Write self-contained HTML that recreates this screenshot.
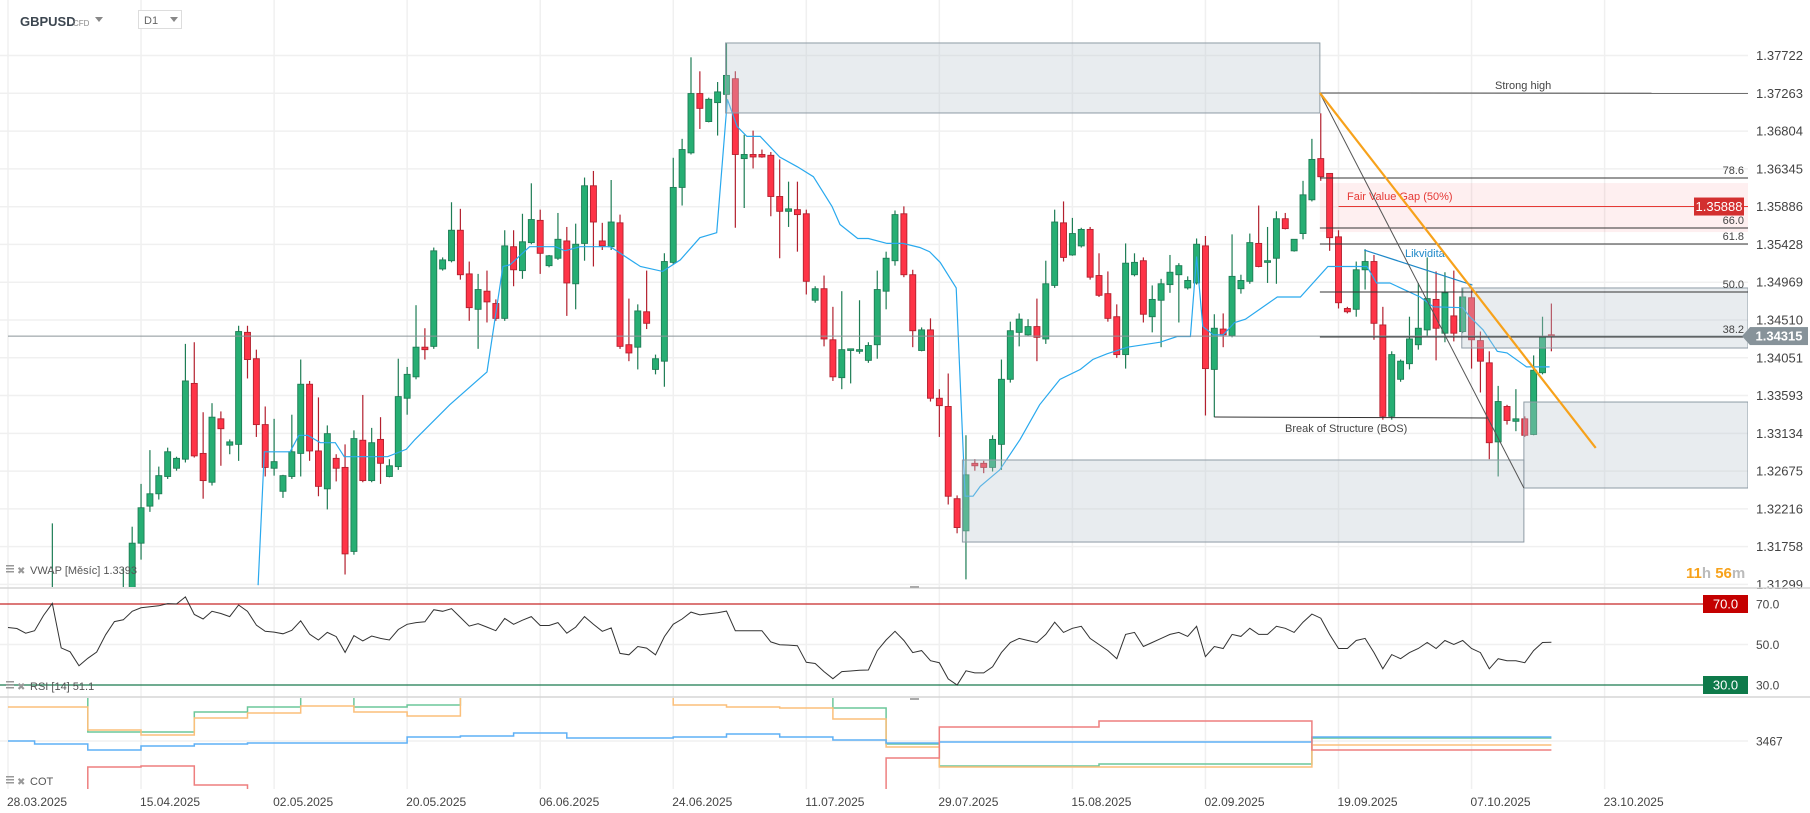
<!DOCTYPE html>
<html><head><meta charset="utf-8"><title>GBPUSD D1</title>
<style>
html,body{margin:0;padding:0;background:#fff;width:1810px;height:813px;overflow:hidden;}
body{font-family:"Liberation Sans",sans-serif;}
svg{display:block;}
svg text{font-family:"Liberation Sans",sans-serif;}
</style></head>
<body>
<svg id="chart" xmlns="http://www.w3.org/2000/svg" width="1810" height="813" viewBox="0 0 1810 813">
  <defs>
    <clipPath id="cMain"><rect x="0" y="0" width="1748" height="587"/></clipPath>
    <clipPath id="cRsi"><rect x="0" y="589" width="1748" height="107"/></clipPath>
    <clipPath id="cCot"><rect x="0" y="698" width="1748" height="91"/></clipPath>
  </defs>
  <rect x="0" y="0" width="1810" height="813" fill="#fff"/>
  <g id="grid"></g>
  <g id="mainG" clip-path="url(#cMain)"></g>
  <g id="rsiG" clip-path="url(#cRsi)"></g>
  <g id="cotG" clip-path="url(#cCot)"></g>
  <g id="axisG"></g>
  <line x1="0" y1="588" x2="1810" y2="588" stroke="#d6d6d6" stroke-width="1.5"/>
  <line x1="0" y1="697" x2="1810" y2="697" stroke="#d6d6d6" stroke-width="1.5"/>
  <rect x="910" y="586" width="9" height="2" fill="#aaa"/>
  <rect x="910" y="698" width="9" height="2" fill="#aaa"/>
  <text x="20" y="26" font-size="13" font-weight="bold" fill="#3c4650">GBPUSD</text>
  <text x="73" y="26" font-size="8" fill="#8a8a8a">CFD</text>
  <path d="M95 17 L103 17 L99 22 Z" fill="#888"/>
  <rect x="138.5" y="10.5" width="43" height="18" fill="#fff" stroke="#ddd"/>
  <text x="144" y="24" font-size="11" fill="#666">D1</text>
  <path d="M170 17 L178 17 L174 22 Z" fill="#888"/>
  <g>
    <rect x="6" y="565" width="8" height="1.5" fill="#999"/><rect x="6" y="568" width="8" height="1.5" fill="#999"/><rect x="6" y="571" width="8" height="1.5" fill="#999"/>
    <text x="17" y="574" font-size="10" fill="#999">✖</text>
    <text x="30" y="574" font-size="11" fill="#555">VWAP [Měsíc] 1.3393</text>
  </g>
  <g>
    <rect x="6" y="681" width="8" height="1.5" fill="#999"/><rect x="6" y="684" width="8" height="1.5" fill="#999"/><rect x="6" y="687" width="8" height="1.5" fill="#999"/>
    <text x="17" y="690" font-size="10" fill="#999">✖</text>
    <text x="30" y="690" font-size="11" fill="#555">RSI [14]  51.1</text>
  </g>
  <g>
    <rect x="6" y="776" width="8" height="1.5" fill="#999"/><rect x="6" y="779" width="8" height="1.5" fill="#999"/><rect x="6" y="782" width="8" height="1.5" fill="#999"/>
    <text x="17" y="785" font-size="10" fill="#999">✖</text>
    <text x="30" y="785" font-size="11" fill="#555">COT</text>
  </g>
  <text x="1686" y="578" font-size="15" font-weight="bold"><tspan fill="#f7a21b">11</tspan><tspan fill="#bbb">h </tspan><tspan fill="#f7a21b">56</tspan><tspan fill="#bbb">m</tspan></text>
</svg>
<script>
const opens=[1.2940,1.2920,1.2930,1.2915,1.2920,1.2990,1.3100,1.2890,1.2880,1.2740,1.2770,1.2760,1.2830,1.3080,1.3110,1.3180,1.3225,1.3240,1.3261,1.3271,1.3282,1.3374,1.3289,1.3254,1.3331,1.3299,1.3300,1.3436,1.3404,1.3324,1.3271,1.3243,1.3261,1.3289,1.3373,1.3292,1.3246,1.3283,1.3272,1.3170,1.3305,1.3256,1.3306,1.3261,1.3273,1.3356,1.3382,1.3418,1.3419,1.3513,1.3523,1.3560,1.3507,1.3464,1.3486,1.3471,1.3453,1.3540,1.3511,1.3545,1.3572,1.3517,1.3526,1.3547,1.3495,1.3544,1.3614,1.3547,1.3540,1.3569,1.3421,1.3418,1.3461,1.3391,1.3401,1.3521,1.3612,1.3654,1.3726,1.3692,1.3715,1.3725,1.3744,1.3647,1.3652,1.3652,1.3651,1.3601,1.3583,1.3585,1.3580,1.3475,1.3489,1.3427,1.3381,1.3414,1.3413,1.3402,1.3421,1.3486,1.3523,1.3580,1.3506,1.3414,1.3439,1.3356,1.3346,1.3234,1.3195,1.3277,1.3277,1.3272,1.3300,1.3379,1.3436,1.3433,1.3443,1.3428,1.3493,1.3569,1.3530,1.3541,1.3561,1.3505,1.3483,1.3455,1.3409,1.3506,1.3523,1.3455,1.3475,1.3494,1.3506,1.3490,1.3496,1.3541,1.3391,1.3440,1.3432,1.3489,1.3498,1.3544,1.3521,1.3526,1.3574,1.3535,1.3556,1.3597,1.3647,1.3629,1.3552,1.3465,1.3464,1.3512,1.3522,1.3445,1.3334,1.3379,1.3398,1.3421,1.3439,1.3476,1.3435,1.3456,1.3437,1.3478,1.3426,1.3399,1.3303,1.3346,1.3328,1.3331,1.3312,1.3387,1.3433];
const highs=[1.2960,1.2950,1.2950,1.2960,1.3000,1.3204,1.3110,1.2900,1.2900,1.2830,1.2800,1.2850,1.3100,1.3150,1.3200,1.3252,1.3293,1.3273,1.3296,1.3285,1.3422,1.3424,1.3339,1.3350,1.3340,1.3306,1.3444,1.3444,1.3415,1.3346,1.3331,1.3263,1.3336,1.3403,1.3377,1.3357,1.3323,1.3288,1.3300,1.3317,1.3360,1.3320,1.3333,1.3282,1.3404,1.3394,1.3469,1.3441,1.3539,1.3527,1.3594,1.3586,1.3522,1.3507,1.3511,1.3476,1.3560,1.3560,1.3580,1.3617,1.3585,1.3530,1.3581,1.3564,1.3568,1.3624,1.3632,1.3569,1.3621,1.3579,1.3477,1.3470,1.3511,1.3409,1.3532,1.3648,1.3671,1.3770,1.3753,1.3721,1.3740,1.3788,1.3753,1.3676,1.3681,1.3658,1.3655,1.3646,1.3619,1.3619,1.3585,1.3492,1.3505,1.3467,1.3486,1.3416,1.3475,1.3424,1.3511,1.3534,1.3584,1.3589,1.3512,1.3442,1.3453,1.3367,1.3386,1.3238,1.3311,1.3282,1.3280,1.3311,1.3403,1.3449,1.3459,1.3452,1.3477,1.3523,1.3585,1.3595,1.3575,1.3563,1.3564,1.3532,1.3510,1.3470,1.3544,1.3532,1.3527,1.3493,1.3501,1.3530,1.3520,1.3504,1.3550,1.3553,1.3458,1.3459,1.3555,1.3506,1.3556,1.3590,1.3564,1.3583,1.3581,1.3549,1.3620,1.3671,1.3702,1.3629,1.3560,1.3467,1.3522,1.3537,1.3530,1.3467,1.3413,1.3403,1.3455,1.3496,1.3527,1.3510,1.3509,1.3511,1.3490,1.3489,1.3437,1.3413,1.3371,1.3348,1.3367,1.3334,1.3408,1.3455,1.3471];
const lows=[1.2900,1.2890,1.2900,1.2880,1.2900,1.2980,1.2860,1.2860,1.2710,1.2710,1.2710,1.2740,1.2800,1.3050,1.3090,1.3160,1.3218,1.3233,1.3258,1.3268,1.3278,1.3284,1.3234,1.3250,1.3274,1.3288,1.3280,1.3380,1.3309,1.3261,1.3262,1.3235,1.3258,1.3261,1.3280,1.3237,1.3221,1.3255,1.3142,1.3166,1.3254,1.3254,1.3252,1.3260,1.3269,1.3336,1.3379,1.3403,1.3416,1.3511,1.3521,1.3500,1.3450,1.3416,1.3448,1.3450,1.3450,1.3492,1.3501,1.3543,1.3507,1.3515,1.3524,1.3456,1.3464,1.3523,1.3516,1.3536,1.3536,1.3416,1.3401,1.3391,1.3440,1.3385,1.3370,1.3518,1.3590,1.3652,1.3683,1.3691,1.3675,1.3703,1.3563,1.3587,1.3635,1.3648,1.3577,1.3526,1.3564,1.3534,1.3482,1.3472,1.3419,1.3377,1.3367,1.3374,1.3410,1.3399,1.3404,1.3464,1.3517,1.3503,1.3418,1.3413,1.3352,1.3309,1.3227,1.3192,1.3136,1.3268,1.3265,1.3267,1.3269,1.3375,1.3419,1.3432,1.3401,1.3422,1.3490,1.3522,1.3529,1.3539,1.3500,1.3479,1.3449,1.3405,1.3392,1.3504,1.3448,1.3436,1.3418,1.3484,1.3448,1.3488,1.3494,1.3335,1.3333,1.3418,1.3430,1.3483,1.3495,1.3515,1.3496,1.3495,1.3561,1.3534,1.3549,1.3595,1.3620,1.3535,1.3465,1.3459,1.3455,1.3488,1.3427,1.3330,1.3330,1.3376,1.3391,1.3415,1.3430,1.3402,1.3424,1.3425,1.3435,1.3392,1.3363,1.3282,1.3261,1.3324,1.3316,1.3309,1.3311,1.3385,1.3413];
const closes=[1.2920,1.2930,1.2915,1.2920,1.2990,1.3100,1.2890,1.2880,1.2740,1.2770,1.2760,1.2830,1.3080,1.3110,1.3180,1.3223,1.3240,1.3262,1.3291,1.3283,1.3377,1.3286,1.3256,1.3333,1.3319,1.3303,1.3437,1.3403,1.3324,1.3272,1.3279,1.3262,1.3291,1.3373,1.3292,1.3249,1.3313,1.3271,1.3167,1.3307,1.3256,1.3302,1.3277,1.3274,1.3358,1.3385,1.3418,1.3415,1.3535,1.3524,1.3560,1.3506,1.3466,1.3488,1.3473,1.3453,1.3541,1.3512,1.3546,1.3573,1.3532,1.3529,1.3549,1.3496,1.3543,1.3614,1.3570,1.3541,1.3570,1.3419,1.3411,1.3462,1.3447,1.3404,1.3522,1.3612,1.3658,1.3726,1.3708,1.3719,1.3728,1.3748,1.3652,1.3652,1.3649,1.3649,1.3601,1.3583,1.3586,1.3579,1.3498,1.3489,1.3428,1.3382,1.3415,1.3416,1.3415,1.3420,1.3488,1.3526,1.3579,1.3506,1.3438,1.3439,1.3356,1.3347,1.3237,1.3199,1.3263,1.3274,1.3272,1.3306,1.3379,1.3438,1.3452,1.3443,1.3430,1.3495,1.3570,1.3527,1.3556,1.3561,1.3503,1.3481,1.3453,1.3409,1.3520,1.3521,1.3458,1.3476,1.3495,1.3509,1.3517,1.3499,1.3543,1.3392,1.3441,1.3433,1.3504,1.3499,1.3545,1.3516,1.3523,1.3574,1.3562,1.3549,1.3603,1.3646,1.3625,1.3551,1.3472,1.3461,1.3512,1.3522,1.3447,1.3334,1.3409,1.3401,1.3428,1.3441,1.3477,1.3441,1.3484,1.3435,1.3479,1.3427,1.3401,1.3302,1.3352,1.3329,1.3331,1.3311,1.3390,1.3431,1.3432];
const vwapIdx=[28.2,28.9,31.8,32.8,33.8,35.2,36.9,37.9,42.8,44.9,45.9,49.8,54,55.8,56.6,58.8,61.7,62.8,64.5,67.9,69.6,71.3,73.8,75.8,78,79.9,81.1,82.2,83.3,84.8,87,89,90.8,92.9,93.8,95.8,97,99.1,100.9,102.8,103.9,105.1,106.9,107.9,108.8,109.6,111.8,114.1,116.3,118.6,120.9,122.3,123.9,126.2,129.9,131.8,133.3,134,134.7,135.9,137,138.3,139.5,143.1,145.7,148.8,153.2,154.3,155.8,159.2,160.7,164,164.8,166.3,167.9,169,171.2,173.8];
const vwapVal=[1.3129,1.3291,1.3291,1.3311,1.3311,1.3302,1.3302,1.3285,1.3285,1.3294,1.3306,1.3348,1.3388,1.3516,1.3518,1.3540,1.3540,1.3535,1.3540,1.3540,1.3528,1.3516,1.3510,1.3524,1.3551,1.3557,1.3719,1.3686,1.3674,1.3674,1.3649,1.3637,1.3625,1.3589,1.3567,1.3550,1.3550,1.3544,1.3544,1.3539,1.3534,1.3521,1.3490,1.3237,1.3237,1.3249,1.3269,1.3306,1.3348,1.3379,1.3391,1.3403,1.3410,1.3418,1.3424,1.3431,1.3431,1.3528,1.3443,1.3433,1.3433,1.3448,1.3452,1.3479,1.3479,1.3516,1.3516,1.3496,1.3496,1.3479,1.3467,1.3466,1.3455,1.3439,1.3413,1.3411,1.3394,1.3394];
const rsiVals=[58.4,57.9,55.6,56.8,64.3,70.3,48.3,46.4,39.5,43.2,46.3,54.8,61.3,62.2,66.4,68.1,68.6,69.1,70.2,70.0,73.5,64.8,62.6,66.4,65.3,63.8,69.5,66.4,59.6,56.5,56.1,55.3,57.0,61.7,55.1,52.2,56.0,53.9,46.1,54.4,51.8,54.2,53.0,52.2,57.4,60.0,60.8,61.2,67.2,66.4,67.7,63.4,59.1,60.3,58.6,56.8,62.9,60.0,62.0,63.8,59.4,59.4,60.8,55.6,58.6,63.8,60.0,56.5,58.2,45.6,44.9,49.0,48.2,44.9,53.9,60.0,62.6,66.0,64.6,65.2,65.7,66.5,56.8,56.8,56.8,56.8,51.3,49.9,49.7,49.4,41.2,40.6,36.6,33.1,36.6,36.9,37.3,37.4,47.0,52.2,56.5,52,46,47,42,41,33,30,37,36,36,39,46,51,53,52,51,55,61,56,58,59,53,50,47,43,55,56,49,51,53,55,56,54,59,44,49,48,55,54,58,55,55,59,58,56,61,65,63,55,48,48,52,53,46,38,45,43,46,48,51,48,52,50,52,48,46,38,43,42,42,41,47,51,51.1];
const rsiLevels=[70,50,30];
const cotStart=[0,3,9,15,21,27,33,39,45,51,57,63,69,75,81,87,93,99,105,123,147];
const cotGreen=[51000,51000,9000,9000,29000,34000,46000,34000,36000,52000,52000,52000,52000,52000,52000,52000,33000,-3000,-25000,-23000,3000];
const cotOrange=[34000,34000,11000,6000,23000,28000,35000,29000,25000,52000,52000,52000,52000,36000,34000,33000,22000,-6000,-26000,-26000,-4000];
const cotBlue=[0,-3000,-9000,-5000,-3000,-2000,-2000,-2000,4000,5000,8000,3000,3000,4000,7000,4000,1000,-2000,-1000,-1000,4000];
const cotRed=[-60000,-60000,-26000,-25000,-44000,-50000,-60000,-50000,-51000,-60000,-60000,-60000,-60000,-60000,-60000,-60000,-49000,-17000,14000,20000,-9000];
const priceTicks=[1.37722,1.37263,1.36804,1.36345,1.35886,1.35428,1.34969,1.34510,1.34051,1.33593,1.33134,1.32675,1.32216,1.31758,1.31299];
const dateIdx=[0,15,30,45,60,75,90,105,120,135,150,165,180];
const dateLabels=["28.03.2025","15.04.2025","02.05.2025","20.05.2025","06.06.2025","24.06.2025","11.07.2025","29.07.2025","15.08.2025","02.09.2025","19.09.2025","07.10.2025","23.10.2025"];
const lastPrice=1.34315;
const fibLevels=[78.6,66.0,61.8,50.0,38.2];
const fibPrices=[1.36234,1.35627,1.35433,1.34850,1.34304];

const NS="http://www.w3.org/2000/svg";
const PLOT_R=1748;
const X=i=>8+i*8.87;
const Y=p=>55.5+(1.37722-p)*8235;
const YR=v=>604+(70-v)*81/40;
const YC=v=>741-v/1000;
function mk(tag,attrs,parent){const e=document.createElementNS(NS,tag);for(const k in attrs)e.setAttribute(k,attrs[k]);parent.appendChild(e);return e;}
const grid=document.getElementById('grid'),mainG=document.getElementById('mainG'),rsiG=document.getElementById('rsiG'),cotG=document.getElementById('cotG'),axisG=document.getElementById('axisG');

priceTicks.forEach(p=>{const l=mk('line',{x1:0,x2:PLOT_R,y1:Y(p),y2:Y(p),stroke:'#f0f0f0','stroke-width':1.5},grid);

});
dateIdx.forEach(i=>{const l=mk('line',{x1:X(i),x2:X(i),y1:0,y2:789,stroke:'#f0f0f0','stroke-width':1.5},grid);

});
[50].forEach(v=>{const l=mk('line',{x1:0,x2:PLOT_R,y1:YR(v),y2:YR(v),stroke:'#f0f0f0','stroke-width':1.5},grid);

});
{const l=mk('line',{x1:0,x2:PLOT_R,y1:YC(0),y2:YC(0),stroke:'#f0f0f0','stroke-width':1.5},grid);

}

function rectP(i1,i2,p1,p2,fill,stroke,name){
  const x1=X(i1),x2=i2===null?PLOT_R:X(i2),y1=Y(p1),y2=Y(p2);
  const r=mk('rect',{x:x1,y:Math.min(y1,y2),width:x2-x1,height:Math.abs(y2-y1),fill:fill,stroke:stroke,'stroke-width':1},mainG);
  
  
  return r;}
rectP(147.9,null,1.36173,1.35578,'rgba(242,54,69,0.08)','none','fair-value-gap-zone');

for(let i=0;i<opens.length;i++){
  const o=opens[i],h=highs[i],l=lows[i],c=closes[i];const up=c>=o;
  const col=up?'#1e7d55':'#b3202e',fill=up?'#26ae73':'#fe3447';
  const g=mk('g',{},mainG);
  
  
  mk('line',{x1:X(i),x2:X(i),y1:Y(h),y2:Y(l),stroke:col,'stroke-width':1.2},g);
  const yt=Y(Math.max(o,c)),yb=Y(Math.min(o,c));
  mk('rect',{x:X(i)-3,y:yt,width:6,height:Math.max(1.5,yb-yt),fill:fill,stroke:col,'stroke-width':0.9},g);
}

{let d='';
for(let k=0;k<vwapIdx.length;k++){d+=(k?'L':'M')+X(vwapIdx[k]).toFixed(1)+' '+Y(vwapVal[k]).toFixed(1)+' ';}
const p=mk('path',{d:d,fill:'none',stroke:'#29a9ee','stroke-width':1.2},mainG);

}

rectP(80.9,147.9,1.37874,1.37024,'rgba(190,200,208,0.35)','#8e9ba5','order-block-top');
rectP(163.9,null,1.34899,1.34170,'rgba(190,200,208,0.35)','#8e9ba5','liquidity-zone');
rectP(170.9,null,1.33514,1.32470,'rgba(190,200,208,0.35)','#8e9ba5','demand-zone-right');
rectP(107.6,170.9,1.32810,1.31814,'rgba(190,200,208,0.35)','#8e9ba5','demand-zone-left');

function lineP(i1,p1,i2,p2,stroke,w,name){
  const l=mk('line',{x1:X(i1),y1:Y(p1),x2:i2===null?PLOT_R:X(i2),y2:Y(p2),stroke:stroke,'stroke-width':w},mainG);
  
  return l;}
function textAt(x,y,s,size,fill,name,anchor){
  const t=mk('text',{x:x,y:y,'font-size':size,fill:fill,'text-anchor':anchor||'start'},mainG);t.textContent=s;
  
  return t;}

lineP(0,lastPrice,null,lastPrice,'#8a9499',1,'last-price-line');
lineP(147.9,1.37267,null,1.37263,'#444',1,'strong-high-line');
textAt(1495,89,'Strong high',11,'#444','strong-high-label');
fibLevels.forEach((lv,k)=>{lineP(147.9,fibPrices[k],null,fibPrices[k],'#333',1,'fib-level-line');
 textAt(1744,Y(fibPrices[k])-4,lv.toFixed(1),11,'#444','fib-level-label','end');});
lineP(150,1.35888,null,1.35888,'#e53935',1,'fvg-midline');
textAt(1347,200,'Fair Value Gap (50%)',11,'#e53935','fvg-label');
lineP(136,1.33332,166.9,1.33320,'#333',1,'bos-line');
textAt(1285,432,'Break of Structure (BOS)',11,'#444','bos-label');
lineP(152.9,1.35360,165.1,1.34935,'#1e88c8',1.2,'liquidity-line');
textAt(1405,257,'Likvidita',11,'#1e88c8','liquidity-label');
lineP(147.9,1.37267,170.9,1.32470,'#555',1,'structure-diagonal');
lineP(147.9,1.37267,179,1.32956,'#f7a21b',2.2,'orange-trendline');

rsiLevels.forEach(v=>{if(v===50)return;const l=mk('line',{x1:0,x2:PLOT_R,y1:YR(v),y2:YR(v),stroke:v===70?'#c62828':'#1b7a4f','stroke-width':1.3},rsiG);

});
{let d='';rsiVals.forEach((v,i)=>{d+=(i?'L':'M')+X(i).toFixed(1)+' '+YR(v).toFixed(1)+' ';});
const p=mk('path',{d:d,fill:'none',stroke:'#333','stroke-width':1},rsiG);

}

function stepPath(vals,color,name){let d='';
 for(let k=0;k<cotStart.length;k++){const xs=X(cotStart[k]),xe=k+1<cotStart.length?X(cotStart[k+1]):X(opens.length-1);
  d+=(k?'L':'M')+xs.toFixed(1)+' '+YC(vals[k]).toFixed(1)+' L'+xe.toFixed(1)+' '+YC(vals[k]).toFixed(1)+' ';}
 const p=mk('path',{d:d,fill:'none',stroke:color,'stroke-width':1.5},cotG);
 
 }
stepPath(cotGreen,'#6cc79a','cot-green-line');
stepPath(cotOrange,'#fbbf7a','cot-orange-line');
stepPath(cotBlue,'#5fb0f5','cot-blue-line');
stepPath(cotRed,'#ee7f7f','cot-red-line');

priceTicks.forEach(p=>{const t=mk('text',{x:1756,y:Y(p)+4.5,'font-size':13,fill:'#444'},axisG);t.textContent=p.toFixed(5);

});
dateIdx.forEach((i,k)=>{const t=mk('text',{x:X(i)-1,y:806,'font-size':12,fill:'#444'},axisG);t.textContent=dateLabels[k];

});
[70,50,30].forEach(v=>{const t=mk('text',{x:1756,y:YR(v)+4.5,'font-size':12,fill:'#444'},axisG);t.textContent=v.toFixed(1);

});
{const t=mk('text',{x:1756,y:YC(0)+4.5,'font-size':12,fill:'#444'},axisG);t.textContent='3467';

}
function badge(x,y,w,bg,txt,name,arrow){
 const g=mk('g',{},axisG);
 
 
 if(arrow)mk('path',{d:`M${x-8} ${y} L${x} ${y-9} L${x} ${y+9} Z`,fill:bg},g);
 mk('rect',{x:x,y:y-9,width:w,height:18,fill:bg},g);
 const t=mk('text',{x:x+w/2,y:y+4.5,'font-size':13,fill:'#fff','text-anchor':'middle','font-weight':arrow?'bold':'normal'},g);t.textContent=txt;}
badge(1694,Y(1.35888),50,'#d32f2f','1.35888','fvg-price-badge',false);
badge(1750,Y(lastPrice),58,'#87939a','1.34315','last-price-badge',true);
badge(1703,YR(70),45,'#c40000','70.0','rsi-70-badge',false);
badge(1703,YR(30),45,'#0e7a4a','30.0','rsi-30-badge',false);
</script>
</body></html>
